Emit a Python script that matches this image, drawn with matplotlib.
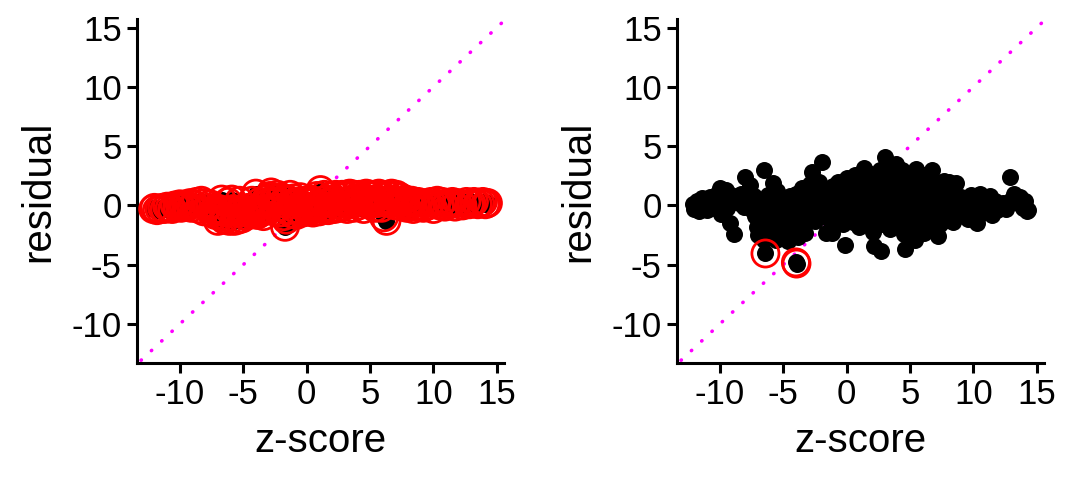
import numpy as np
import matplotlib.pyplot as plt

plt.rcParams['font.family'] = ['Liberation Sans', 'DejaVu Sans']
plt.rcParams['axes.unicode_minus'] = False

# z-scores shared by both fits
z_score = [
    -12.1, -12.0, -11.8, -11.6, -11.4, -11.2, -11.0, -10.8, -10.6, -10.4,
    -10.2, -10.0, -9.9, -9.7, -9.5, -9.4, -9.2, -9.1, -8.9,
    -8.7, -8.5, -8.3, -8.1, -8.0, -7.8, -7.6, -7.5, -7.3, -7.2, -7.1,
    -7.0, -6.9, -6.8, -6.7, -6.55, -6.5, -6.4, -6.3, -6.2, -6.1, -6.0,
    -5.9, -5.8, -5.7, -5.6, -5.5, -5.4, -5.3, -5.2, -5.1, -5.0,
    -4.9, -4.8, -4.6, -4.5, -4.4, -4.3, -4.2, -4.0, -3.95, -4.0, -3.9,
    -3.8, -3.7, -3.6, -3.5, -3.4, -3.3, -3.2, -3.1, -3.0,
    -2.9, -2.8, -2.7, -2.6, -2.5, -2.4, -2.3, -2.2, -2.1, -2.0,
    -1.93, -1.8, -1.7, -1.6, -1.5, -1.4, -1.3, -1.16, -1.1, -1.0,
    -0.9, -0.8, -0.7, -0.6, -0.5, -0.4, -0.3, -0.13, -0.1, 0.0,
    0.1, 0.2, 0.3, 0.4, 0.5, 0.6, 0.7, 0.8, 0.9, 1.0,
    1.1, 1.2, 1.3, 1.4, 1.5, 1.6, 1.7, 1.8, 1.9, 2.0,
    2.1, 2.2, 2.3, 2.4, 2.5, 2.6, 2.7, 2.8, 2.9, 3.0,
    3.0, 3.1, 3.2, 3.3, 3.4, 3.5, 3.6, 3.7, 3.8, 3.9, 4.0,
    4.1, 4.2, 4.3, 4.4, 4.5, 4.6, 4.7, 4.8, 4.9, 5.0,
    5.1, 5.2, 5.3, 5.4, 5.5, 5.6, 5.7, 5.8, 5.9, 6.0,
    6.1, 6.2, 6.3, 6.4, 6.5, 6.6, 6.7, 6.8, 6.9, 7.0,
    7.1, 7.2, 7.3, 7.4, 7.5, 7.6, 7.7, 7.8, 7.9, 8.1,
    8.2, 8.3, 8.4, 8.6, 8.7, 8.8, 9.0,
    9.2, 9.4, 9.6, 9.8, 10.0,
    10.2, 10.3, 10.5, 10.7, 10.9,
    11.1, 11.3, 11.5, 11.7, 11.9,
    12.3, 12.6, 12.85, 13.0, 13.2, 13.5, 13.7, 13.9, 14.1, 14.2, 14.3,
]

# residuals of the first fit (left panel)
resid_left = [
    -0.3, -0.2, -0.4, -0.3, -0.2, -0.3, -0.1, -0.2, -0.3, 0.0,
    -0.1, 0.1, -0.2, 0.0, 0.1, -0.1, 0.2, -0.2, 0.1,
    0.3, -0.3, 0.4, -0.5, 0.2, -0.2, 0.1, -0.6, -0.4, -0.8, -0.5,
    -1.3, -0.3, -0.9, 0.5, -0.4, -1.2, -0.6, -1.0, 0.3, -1.3, -0.5,
    0.5, -0.3, -1.3, -0.4, -0.6, -1.2, 0.4, -0.5, -1.1, -0.3,
    -0.6, -0.9, -0.2, -0.5, -0.7, 0.4, -0.4, -0.6, -0.7, 1.0, -0.8,
    -0.5, 0.3, -0.6, 0.0, -0.9, -0.4, 0.5, -0.3, 0.2,
    0.8, 1.1, 0.3, -0.5, 0.6, -0.2, 0.9, 0.4, -0.6, 0.7,
    0.2, -0.9, -1.8, -1.2, 0.5, -0.4, 0.9, -0.7, 0.1, 0.6,
    -0.3, -0.8, 0.3, -0.5, 0.7, 0.0, -0.6, -0.2, 0.4, -0.4,
    0.2, -0.5, 0.5, -0.1, -0.6, 0.3, -0.3, 0.8, 0.0, -0.5,
    1.3, 0.4, -0.3, 0.9, -0.1, 0.5, -0.4, 0.2, 0.8, -0.2,
    0.4, -0.3, 0.9, 0.1, 0.7, -0.2, 0.3, 0.9, -0.1, 0.8,
    0.2, 0.9, -0.3, 0.4, 1.0, 0.1, 0.5, -0.2, 0.9, 0.3, 0.6,
    0.0, 0.9, 0.3, 0.6, -0.3, 0.4, 1.0, 0.2, 0.8, 0.1,
    0.9, 0.3, 0.5, -0.2, 0.9, 0.2, 1.0, 0.4, -0.2, 0.8,
    -1.0, 0.4, -1.3, 0.9, 0.2, 0.5, 1.0, 0.3, 0.8, 0.0,
    0.9, 0.4, 0.2, 0.7, -0.1, 0.4, 0.1, 0.5, -0.2, 0.3,
    0.0, 0.4, -0.3, 0.2, -0.1, 0.3, 0.0,
    -0.2, 0.2, 0.0, 0.3, -0.3,
    0.1, 0.4, 0.0, 0.3, -0.1,
    0.2, 0.1, 0.3, -0.1, 0.2,
    0.0, 0.3, 0.1, 0.2, 0.3, 0.1, 0.2, 0.3, 0.1, 0.2, 0.2,
]

# residuals of the second fit (right panel)
resid_right = [
    0.1, -0.3, 0.4, -0.5, 0.6, 0.0, -0.4, 0.7, 0.2, -0.2,
    1.0, 1.5, -0.7, 0.4, 1.3, -0.2, -1.5, 0.9, -2.4,
    0.6, 0.2, 1.0, -0.1, 2.4, 0.5, 1.7, -0.3, 0.8, -0.9, -1.8,
    -2.5, -1.2, 0.3, -0.5, 3.0, -2.9, -4.05, -1.8, 0.9, -0.8, -2.3,
    0.2, 1.9, -1.4, -2.9, 1.2, -0.4, -2.1, 0.6, -1.0, -2.6,
    0.0, -1.7, -3.0, 0.8, -0.6, -2.2, 0.3, -4.8, -4.9, 1.0, -1.2,
    -2.7, 0.6, -0.4, 1.5, -1.6, -2.3, 0.1, 1.0, -0.9,
    1.8, -0.3, 2.85, 0.6, -1.3, 1.3, -0.1, 2.0, -0.8, 0.9,
    3.7, -0.4, 0.3, -2.3, 1.2, -1.1, 0.6, -2.3, 1.6, -0.2,
    0.9, -1.4, 2.0, 0.3, -0.7, 1.4, -1.6, -3.3, 0.5, 2.3,
    -0.9, 1.1, -0.1, 2.0, -1.4, 0.7, 2.6, -0.6, 1.5, -1.8,
    0.2, 2.2, -1.0, 3.2, 0.9, -0.4, 2.7, -1.5, 1.7, 0.3,
    -2.2, -3.4, 2.4, -0.8, 1.2, 3.0, -3.85, 0.0, -1.6, 1.9,
    4.1, -0.6, 2.8, 0.7, -2.0, 1.5, -1.1, 3.3, 0.2, 3.5, -1.7,
    2.2, 0.9, -0.5, 3.0, -2.4, -3.7, 1.6, 0.3, -1.3, 2.6,
    -0.2, 1.2, -2.0, -2.9, 3.1, 0.6, -1.0, 2.0, -0.6, 1.0,
    -2.3, 2.6, 0.1, -1.5, 1.6, -0.3, 3.0, -2.1, 0.9, -1.0,
    1.8, -2.6, 0.4, -1.6, 1.2, -0.5, 2.1, -1.2, 0.6, 2.0,
    -0.8, 1.0, -1.4, 1.9, 0.2, -0.9, 0.7,
    -0.4, 0.5, -1.1, 0.9, -0.3,
    0.6, -1.5, 1.0, -0.6, 0.3,
    -0.2, 0.8, -0.8, 0.4, -0.4,
    0.2, -0.3, 2.4, 0.5, 1.0, 0.2, 0.7, -0.2, 0.4, -0.5, -0.35,
]

# points flagged in the second fit (circled in red)
flag_z = [-6.4, -4.0, -3.95]
flag_resid = [-4.05, -4.8, -4.9]

ticks = [-10, -5, 0, 5, 10, 15]
lims = (-13.37, 15.57)
ylims = (-13.28, 15.72)
diag = [-13.05, 15.57]

fig = plt.figure(figsize=(10.8, 4.8), dpi=100)
ax1 = fig.add_axes([0.1269, 0.2438, 0.3398, 0.7166])
ax2 = fig.add_axes([0.6269, 0.2438, 0.3398, 0.7166])


def panel(ax, resid, fz, fr):
    ax.plot(diag, diag, color='#FF00FF', lw=2.6,
            linestyle=(0, (0.1, 3.8)), dash_capstyle='round', zorder=1)
    ax.scatter(z_score, resid, s=150, c='black', linewidths=0,
               zorder=2, clip_on=False)
    ax.scatter(fz, fr, s=380, facecolors='none', edgecolors='#FF0000',
               linewidths=2.0, zorder=3, clip_on=False)
    ax.set_xlim(*lims)
    ax.set_ylim(*ylims)
    ax.set_xticks(ticks)
    ax.set_yticks(ticks)
    ax.spines['top'].set_visible(False)
    ax.spines['right'].set_visible(False)
    for s in ('left', 'bottom'):
        ax.spines[s].set_linewidth(2.2)
    ax.tick_params(direction='out', length=7, width=2.2, labelsize=25, pad=4)
    ax.set_xlabel('z-score', fontsize=29, labelpad=8)
    ax.set_ylabel('residual', fontsize=29, labelpad=10)


panel(ax1, resid_left, z_score, resid_left)
panel(ax2, resid_right, flag_z, flag_resid)

fig.savefig('out.png', dpi=100)
